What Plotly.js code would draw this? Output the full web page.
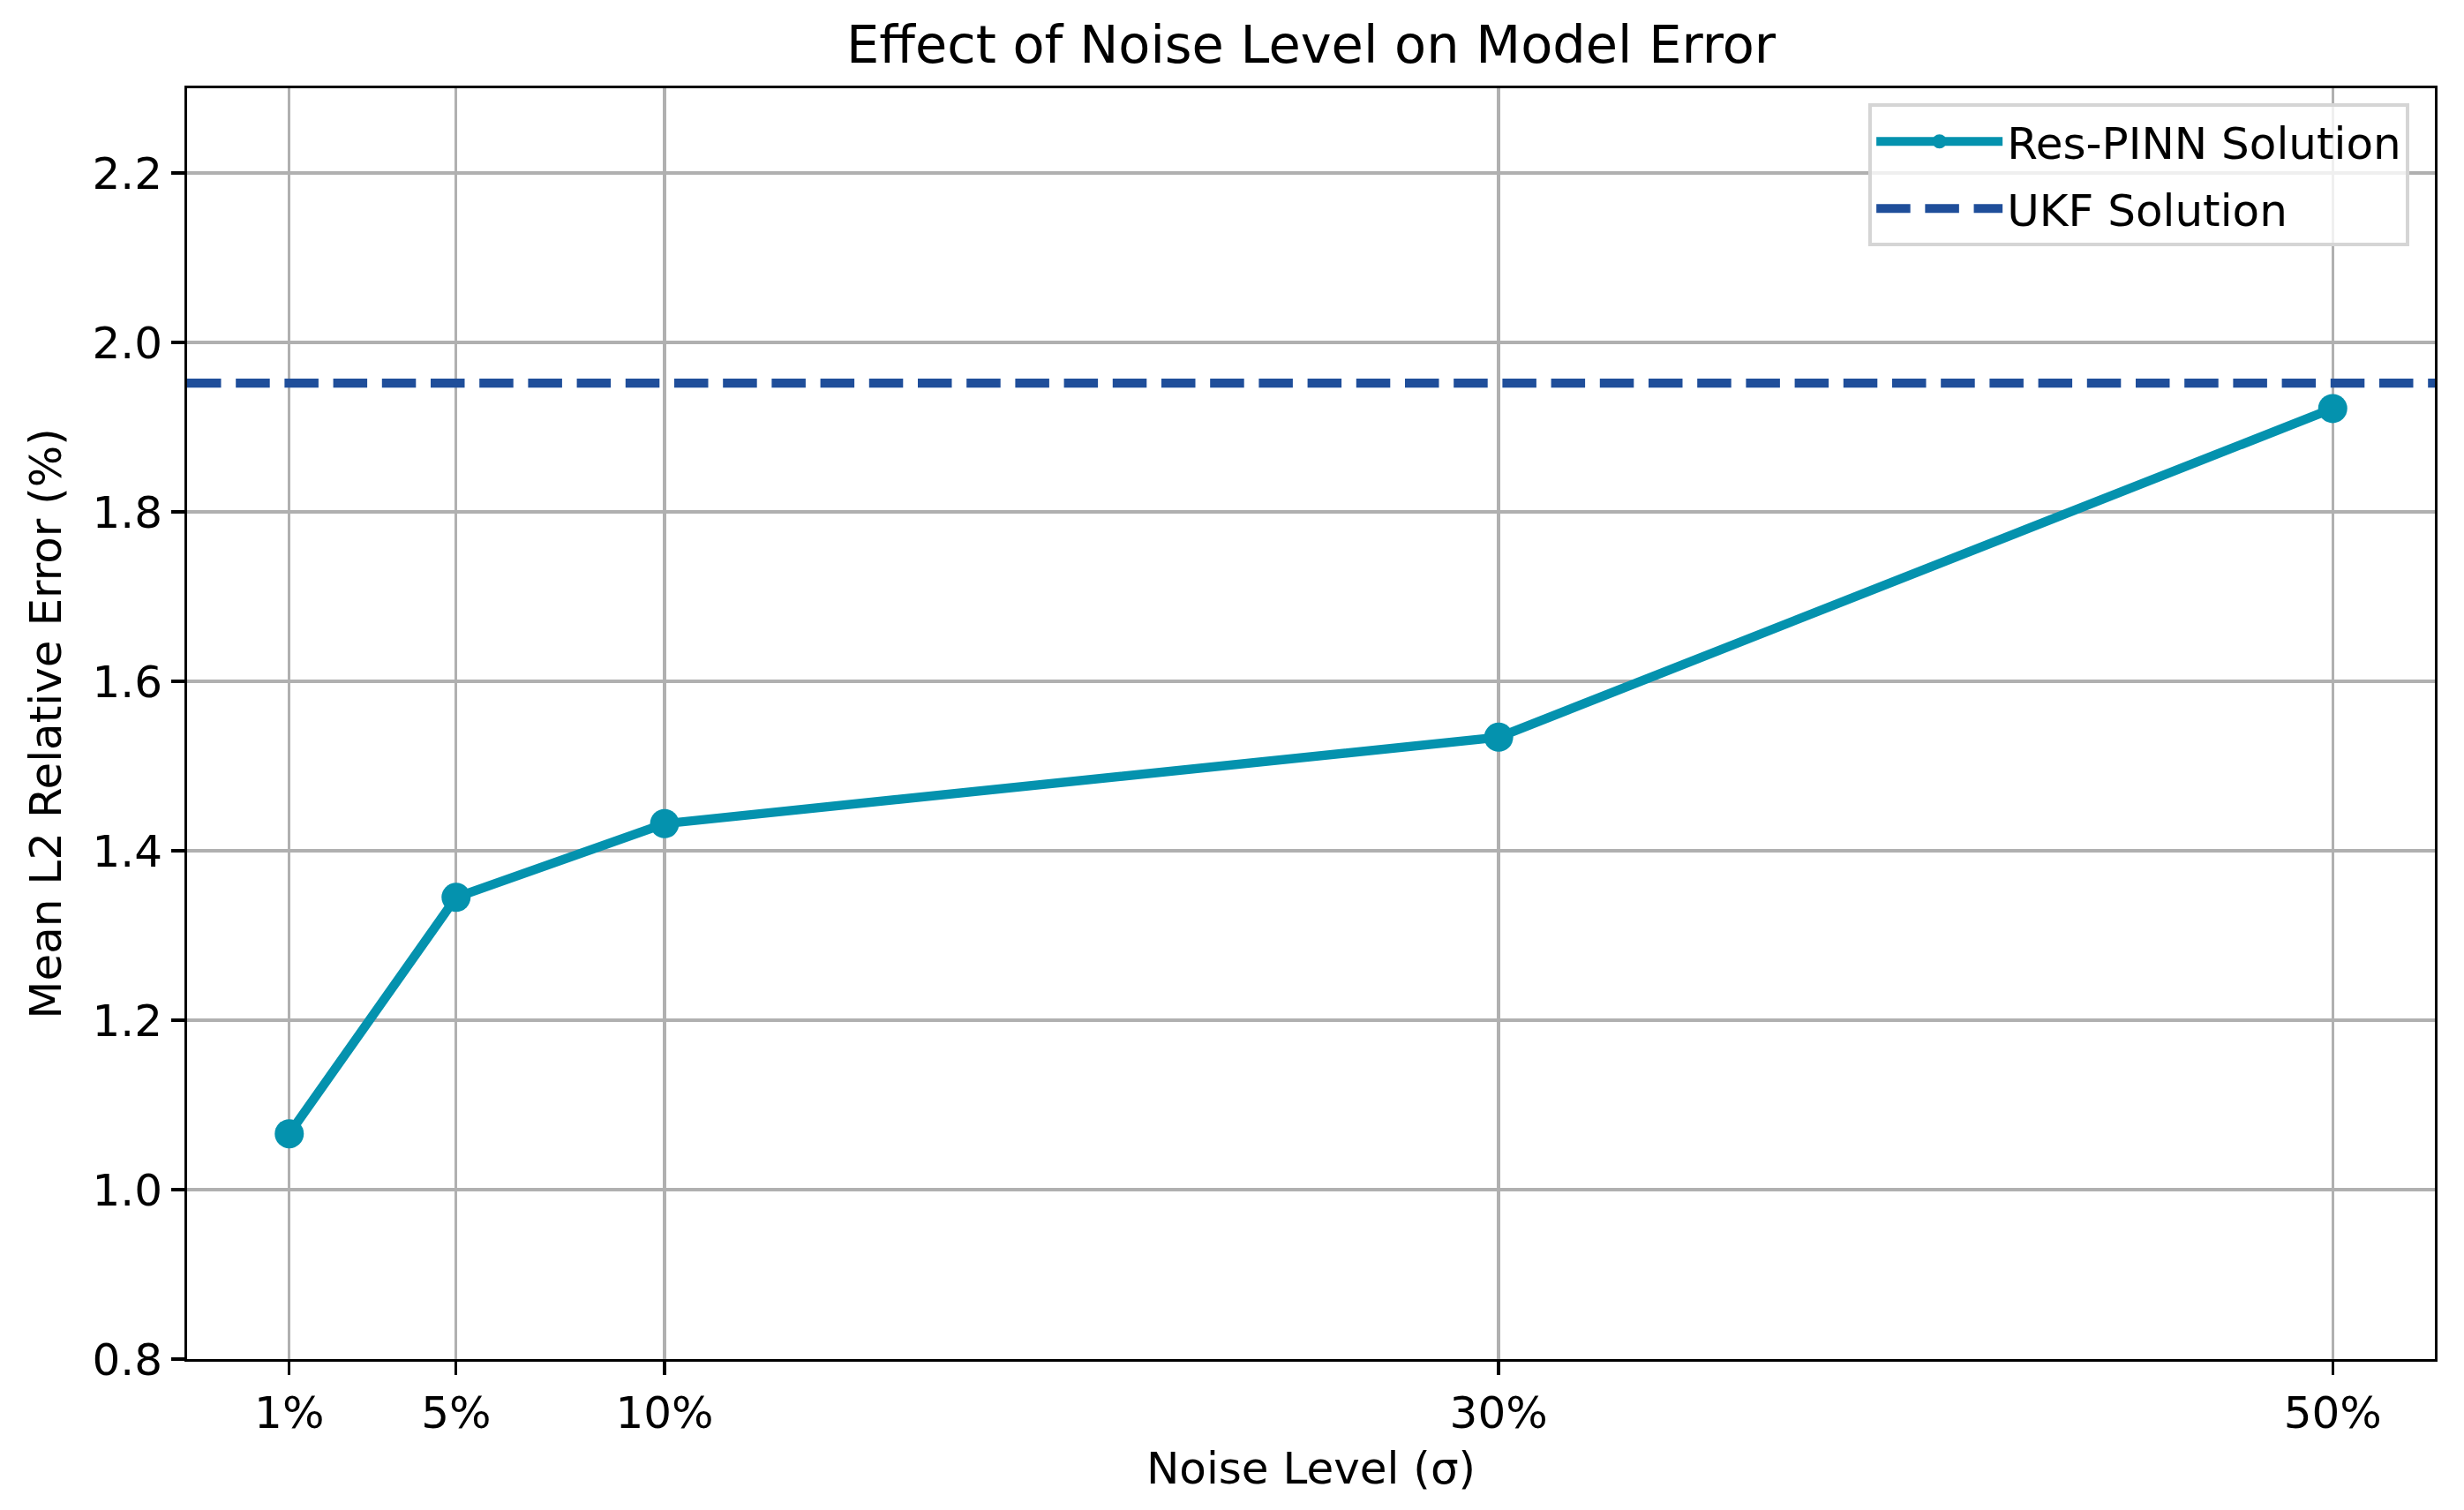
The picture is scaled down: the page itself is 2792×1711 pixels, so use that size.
<!DOCTYPE html>
<html>
<head>
<meta charset="utf-8">
<script src="https://cdn.plot.ly/plotly-3.0.1.min.js"></script>
<style>html,body{margin:0;padding:0;background:#fff;}#chart{width:2792px;height:1711px;}</style>
</head>
<body>
<div id="chart"></div>
<script>
// Data
const noiseLevels = [1, 5, 10, 30, 50];
const noiseTickLabels = ['1%', '5%', '10%', '30%', '50%'];
const resPinnError = [1.066, 1.345, 1.432, 1.534, 1.922];
const ukfError = 1.952;
const yTicks = [0.8, 1.0, 1.2, 1.4, 1.6, 1.8, 2.0, 2.2];

const teal = '#0492AE';
const navy = '#1F4E9A';
const font = 'DejaVu Sans, Liberation Sans, sans-serif';

const traces = [{
  type: 'scatter',
  mode: 'lines+markers',
  x: noiseLevels,
  y: resPinnError,
  name: 'Res-PINN Solution',
  legendgroup: 'a',
  line: {color: teal, width: 10.4},
  marker: {color: teal, size: 33}
}];

const layout = {
  width: 2792,
  height: 1711,
  paper_bgcolor: '#ffffff',
  plot_bgcolor: '#ffffff',
  margin: {l: 212, r: 33, t: 100, b: 171, pad: 0},
  font: {family: font, size: 50, color: '#000'},
  title: {
    text: 'Effect of Noise Level on Model Error',
    font: {family: font, size: 59, color: '#000'},
    x: 0.5, xanchor: 'center', xref: 'paper',
    y: 1 - 50 / 1711, yanchor: 'middle', yref: 'container'
  },
  xaxis: {
    range: [-1.45, 52.45],
    tickmode: 'array',
    tickvals: noiseLevels,
    ticktext: noiseTickLabels,
    showgrid: true, gridcolor: '#b0b0b0', gridwidth: 3.3,
    zeroline: false,
    showline: true, linecolor: '#000', linewidth: 3.3, mirror: true,
    ticks: 'outside', ticklen: 14.6, tickwidth: 3.3, tickcolor: '#000',
    tickfont: {family: font, size: 50, color: '#000'},
    title: {text: 'Noise Level (σ)', font: {family: font, size: 50, color: '#000'}, standoff: 18}
  },
  yaxis: {
    range: [0.8, 2.3],
    tickmode: 'array',
    tickvals: yTicks,
    ticktext: yTicks.map(v => v.toFixed(1)),
    showgrid: true, gridcolor: '#b0b0b0', gridwidth: 3.3,
    zeroline: false,
    showline: true, linecolor: '#000', linewidth: 3.3, mirror: true,
    ticks: 'outside', ticklen: 14.6, tickwidth: 3.3, tickcolor: '#000',
    tickfont: {family: font, size: 50, color: '#000'},
    title: {text: 'Mean L2 Relative Error (%)', font: {family: font, size: 50, color: '#000'}, standoff: 20}
  },
  shapes: [{
    type: 'line', xref: 'paper', x0: 0, x1: 1, yref: 'y', y0: ukfError, y1: ukfError,
    line: {color: navy, width: 10.4, dash: '38.5px,16.7px'},
    name: 'UKF Solution', showlegend: true, legendgroup: 'b', layer: 'above'
  }],
  legend: {
    x: 0.748, xanchor: 'left', y: 0.988, yanchor: 'top',
    bgcolor: 'rgba(255,255,255,0.8)', bordercolor: '#d5d5d5', borderwidth: 4,
    font: {family: font, size: 50, color: '#000'},
    itemwidth: 143,
    traceorder: 'grouped',
    tracegroupgap: 8
  },
  showlegend: true
};

Plotly.newPlot('chart', traces, layout, {staticPlot: true, displayModeBar: false});
</script>
</body>
</html>
